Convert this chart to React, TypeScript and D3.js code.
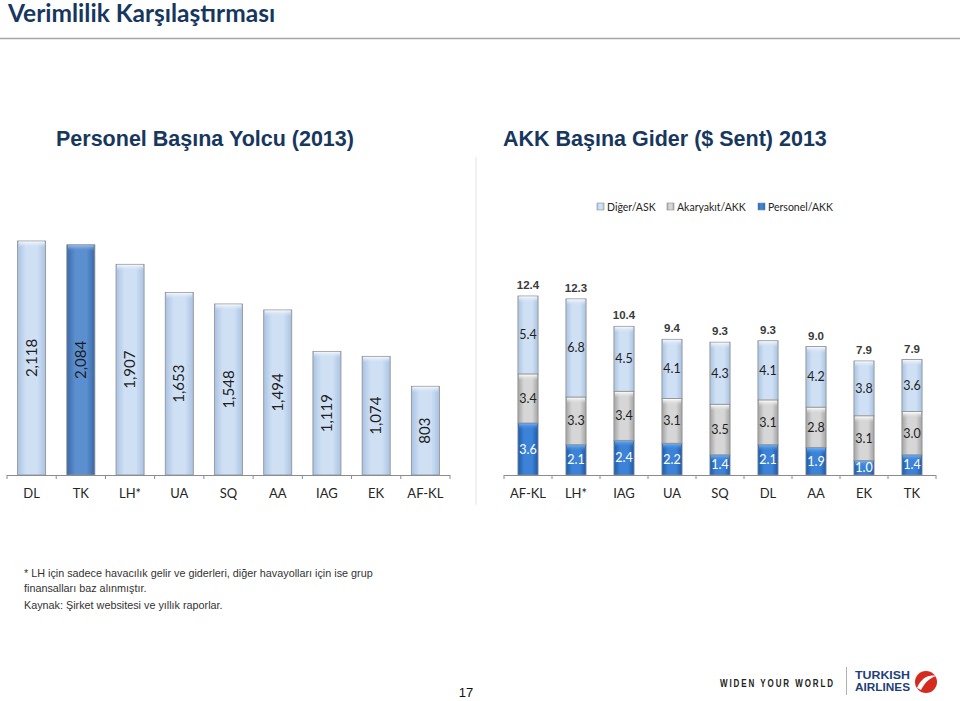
import React from "react";
import * as d3 from "d3";

// ---------- DATA ----------
const leftCategories = ["DL", "TK", "LH*", "UA", "SQ", "AA", "IAG", "EK", "AF-KL"];
const leftValues = [2118, 2084, 1907, 1653, 1548, 1494, 1119, 1074, 803];
const leftHighlight = "TK";

const rightCategories = ["AF-KL", "LH*", "IAG", "UA", "SQ", "DL", "AA", "EK", "TK"];
const personelValues = [3.6, 2.1, 2.4, 2.2, 1.4, 2.1, 1.9, 1.0, 1.4];
const akaryakitValues = [3.4, 3.3, 3.4, 3.1, 3.5, 3.1, 2.8, 3.1, 3.0];
const digerValues = [5.4, 6.8, 4.5, 4.1, 4.3, 4.1, 4.2, 3.8, 3.6];
const totalValues = [12.4, 12.3, 10.4, 9.4, 9.3, 9.3, 9.0, 7.9, 7.9];
const seriesNames = ["Diğer/ASK", "Akaryakıt/AKK", "Personel/AKK"];

const pageTitle = "Verimlilik Karşılaştırması";
const leftTitle = "Personel Başına Yolcu (2013)";
const rightTitle = "AKK Başına Gider ($ Sent) 2013";
const footnotes = [
  "* LH için sadece havacılık gelir ve giderleri, diğer havayolları için ise grup",
  "finansalları baz alınmıştır.",
  "Kaynak: Şirket websitesi ve yıllık raporlar.",
];
const pageNumber = "17";

// ---------- STYLE ----------
const NAVY = "#17375e";
const CAL = "Lato, 'Open Sans', sans-serif";
const ARIAL = "'Liberation Sans', Arial, sans-serif";

const palette: Record<string, { edge: string; mid: string; top: string; text: string }> = {
  light: { edge: "#a9c2e2", mid: "#cfe0f4", top: "#f4f8fd", text: "#1f1f1f" },
  dark: { edge: "#3b69a6", mid: "#5b8fd0", top: "#9cc0ec", text: "#1f1f1f" },
  gray: { edge: "#a3a3a3", mid: "#d6d6d6", top: "#ffffff", text: "#1f1f1f" },
  blue: { edge: "#1d5aa8", mid: "#3c82d6", top: "#6fb0f4", text: "#ffffff" },
};

function Gradients() {
  return (
    <defs>
      {Object.entries(palette).map(([k, c]) => (
        <React.Fragment key={k}>
          <linearGradient id={`h-${k}`} x1="0" x2="1" y1="0" y2="0">
            <stop offset="0" stopColor={c.edge} />
            <stop offset="0.3" stopColor={c.mid} />
            <stop offset="0.7" stopColor={c.mid} />
            <stop offset="1" stopColor={c.edge} />
          </linearGradient>
          <linearGradient id={`v-${k}`} x1="0" x2="0" y1="0" y2="1">
            <stop offset="0" stopColor={c.top} />
            <stop offset="1" stopColor={c.mid} stopOpacity="0" />
          </linearGradient>
        </React.Fragment>
      ))}
    </defs>
  );
}

function Bar({ x, y, w, h, kind }: { x: number; y: number; w: number; h: number; kind: string }) {
  const cap = Math.min(6, h / 2);
  return (
    <g>
      <rect x={x} y={y} width={w} height={h} fill={`url(#h-${kind})`} stroke="#8e8e8e" strokeWidth={0.8} />
      <rect x={x + 1} y={y + 0.5} width={w - 2} height={cap} fill={`url(#v-${kind})`} />
    </g>
  );
}

function LeftChart() {
  const x0 = 7, x1 = 450, base = 475;
  const x = d3.scaleBand<string>().domain(leftCategories).range([x0, x1]).paddingInner(0.43).paddingOuter(0.215);
  const y = d3.scaleLinear().domain([0, 2118]).range([base, 241]);
  const step = (x1 - x0) / leftCategories.length;
  const fmt = d3.format(",");
  return (
    <g>
      {leftCategories.map((c, i) => {
        const v = leftValues[i];
        const bx = x(c)!;
        const bw = x.bandwidth();
        const top = y(v);
        const kind = c === leftHighlight ? "dark" : "light";
        const cx = bx + bw / 2;
        const cy = (top + base) / 2;
        return (
          <g key={c}>
            <Bar x={bx} y={top} w={bw} h={base - top} kind={kind} />
            <text
              transform={`translate(${cx + 5},${cy}) rotate(-90)`}
              textAnchor="middle"
              fontFamily={CAL}
              fontSize={15}
              fill="#1f1f1f"
            >
              {fmt(v)}
            </text>
            <text x={cx} y={498} textAnchor="middle" fontFamily={CAL} fontSize={13} fill="#262626">
              {c}
            </text>
          </g>
        );
      })}
      <line x1={x0} x2={x1} y1={base + 0.5} y2={base + 0.5} stroke="#8c8c8c" strokeWidth={1} />
      {d3.range(leftCategories.length + 1).map((i) => (
        <line key={i} x1={x0 + i * step} x2={x0 + i * step} y1={base} y2={base + 4} stroke="#8c8c8c" />
      ))}
    </g>
  );
}

function RightChart() {
  const x0 = 504, x1 = 936, base = 475;
  const x = d3.scaleBand<string>().domain(rightCategories).range([x0, x1]).paddingInner(0.58).paddingOuter(0.29);
  const y = d3.scaleLinear().domain([0, 12.4]).range([base, 296]);
  const step = (x1 - x0) / rightCategories.length;
  const rows = rightCategories.map((c, i) => ({
    cat: c,
    personel: personelValues[i],
    akaryakit: akaryakitValues[i],
    diger: digerValues[i],
  }));
  const stack = d3.stack<any>().keys(["personel", "akaryakit", "diger"])(rows);
  const kinds: Record<string, string> = { personel: "blue", akaryakit: "gray", diger: "light" };
  const f1 = d3.format(".1f");
  return (
    <g>
      {stack.map((layer) => (
        <g key={layer.key}>
          {layer.map((d, i) => {
            const c = rightCategories[i];
            const bx = x(c)!;
            const bw = x.bandwidth();
            const yt = y(d[1]);
            const yb = y(d[0]);
            const k = kinds[layer.key];
            return (
              <g key={c}>
                <Bar x={bx} y={yt} w={bw} h={yb - yt} kind={k} />
                <text
                  x={bx + bw / 2}
                  y={(yt + yb) / 2 + 4.5}
                  textAnchor="middle"
                  fontFamily={CAL}
                  fontSize={12.5}
                  fill={palette[k].text}
                >
                  {f1(d[1] - d[0])}
                </text>
              </g>
            );
          })}
        </g>
      ))}
      {rightCategories.map((c, i) => {
        const top = y(personelValues[i] + akaryakitValues[i] + digerValues[i]);
        const cx = x(c)! + x.bandwidth() / 2;
        return (
          <g key={c}>
            <text x={cx} y={top - 7} textAnchor="middle" fontFamily={ARIAL} fontWeight="bold" fontSize={11.5} fill="#3a3a3a">
              {f1(totalValues[i])}
            </text>
            <text x={cx} y={498} textAnchor="middle" fontFamily={CAL} fontSize={13} fill="#262626">
              {c}
            </text>
          </g>
        );
      })}
      <line x1={x0} x2={x1} y1={base + 0.5} y2={base + 0.5} stroke="#8c8c8c" strokeWidth={1} />
      {d3.range(rightCategories.length + 1).map((i) => (
        <line key={i} x1={x0 + i * step} x2={x0 + i * step} y1={base} y2={base + 4} stroke="#8c8c8c" />
      ))}
      {/* legend */}
      {seriesNames.map((s, i) => {
        const lx = [597, 667, 758][i];
        const k = ["light", "gray", "blue"][i];
        return (
          <g key={s}>
            <rect x={lx} y={203} width={7} height={7} fill={`url(#h-${k})`} stroke="#8e8e8e" strokeWidth={0.6} />
            <text x={lx + 10} y={211} fontFamily={CAL} fontSize={10.5} fill="#262626">
              {s}
            </text>
          </g>
        );
      })}
    </g>
  );
}

export default function App() {
  return (
    <svg
      width={960}
      height={701}
      style={{ position: "absolute", left: 0, top: 0, background: "#fff" }}
    >
      <Gradients />
      <text x={8} y={22} fontFamily={CAL} fontWeight="bold" fontSize={24.5} fill={NAVY}>
        {pageTitle}
      </text>
      <line x1={0} x2={960} y1={38.5} y2={38.5} stroke="#a6a6a6" strokeWidth={1.5} />
      <text x={56} y={146} fontFamily={ARIAL} fontWeight="bold" fontSize={21.5} fill={NAVY}>
        {leftTitle}
      </text>
      <text x={503} y={146} fontFamily={ARIAL} fontWeight="bold" fontSize={21.5} fill={NAVY}>
        {rightTitle}
      </text>
      <line x1={476} x2={476} y1={157} y2={505} stroke="#e4e4e4" strokeWidth={1} />
      <LeftChart />
      <RightChart />
      {footnotes.map((t, i) => (
        <text key={i} x={24} y={[577, 592, 609][i]} fontFamily={ARIAL} fontSize={10.8} fill="#333">
          {t}
        </text>
      ))}
      <text x={466} y={697} textAnchor="middle" fontFamily={ARIAL} fontSize={13} fill="#111">
        {pageNumber}
      </text>
      <text x={720} y={687} fontFamily={ARIAL} fontWeight="bold" fontSize={10} letterSpacing={2.4} textLength={115} lengthAdjust="spacingAndGlyphs" fill="#222">
        WIDEN YOUR WORLD
      </text>
      <line x1={846.5} x2={846.5} y1={667} y2={695} stroke="#b0b0b0" />
      <text x={855} y={679} fontFamily={ARIAL} fontWeight="bold" fontSize={11.5} textLength={55} lengthAdjust="spacingAndGlyphs" fill="#1f3f7a">
        TURKISH
      </text>
      <text x={855} y={691} fontFamily={ARIAL} fontWeight="bold" fontSize={11.5} textLength={55} lengthAdjust="spacingAndGlyphs" fill="#1f3f7a">
        AIRLINES
      </text>
      <circle cx={926} cy={682} r={11} fill="#d52b1e" />
      <path d="M917,688 C921,678 929,674 936,676 C930,678 925,682 921,690 Z" fill="#fff" />
    </svg>
  );
}
